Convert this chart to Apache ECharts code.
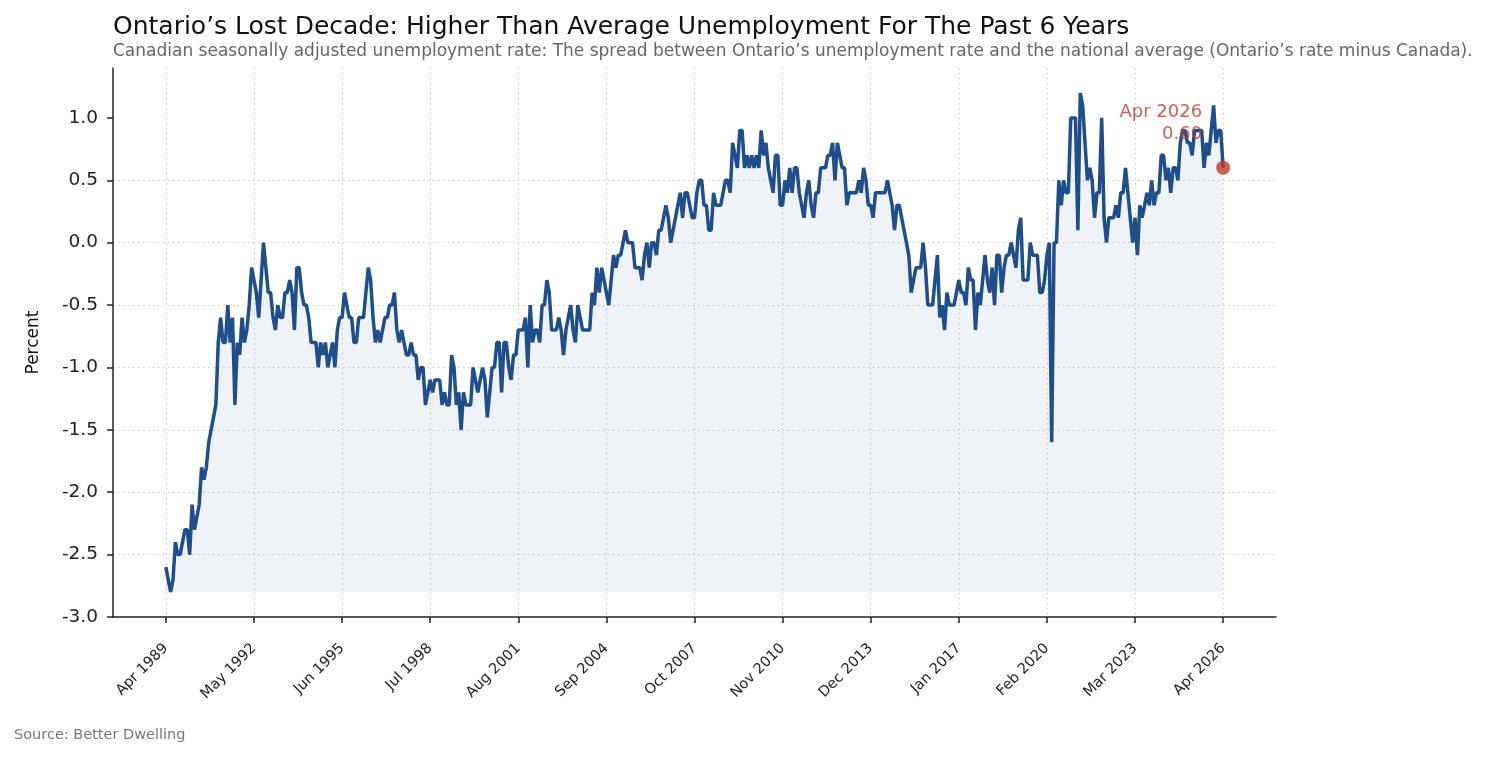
<!DOCTYPE html>
<html>
<head>
<meta charset="utf-8">
<script src="https://cdn.jsdelivr.net/npm/echarts@6/dist/echarts.min.js"></script>
<style>
  html, body { margin: 0; padding: 0; background: #fff; }
  #chart { width: 1490px; height: 759px; }
</style>
</head>
<body>
<div id="chart"></div>
<script>
// Ontario unemployment rate minus Canada, monthly, one row per year
const spread1989to1999 = [
  -2.6, -2.7, -2.8, -2.7, -2.4, -2.5, -2.5, -2.4, -2.3,               // 1989 Apr-Dec
  -2.3, -2.5, -2.1, -2.3, -2.2, -2.1, -1.8, -1.9, -1.8, -1.6, -1.5, -1.4, // 1990
  -1.3, -0.8, -0.6, -0.8, -0.8, -0.5, -0.8, -0.6, -1.3, -0.8, -0.9, -0.6, // 1991
  -0.8, -0.7, -0.5, -0.2, -0.3, -0.4, -0.6, -0.3, 0.0, -0.2, -0.4, -0.4,  // 1992
  -0.6, -0.7, -0.5, -0.6, -0.6, -0.4, -0.4, -0.3, -0.4, -0.7, -0.2, -0.2, // 1993
  -0.4, -0.5, -0.5, -0.6, -0.8, -0.8, -0.8, -1.0, -0.8, -0.9, -0.8, -1.0, // 1994
  -0.9, -0.8, -1.0, -0.7, -0.6, -0.6, -0.4, -0.5, -0.6, -0.6, -0.8, -0.8, // 1995
  -0.6, -0.6, -0.6, -0.4, -0.2, -0.3, -0.6, -0.8, -0.7, -0.8, -0.7, -0.6, // 1996
  -0.6, -0.5, -0.5, -0.4, -0.7, -0.8, -0.7, -0.8, -0.9, -0.9, -0.8, -0.9, // 1997
  -0.9, -1.1, -1.0, -1.0, -1.3, -1.2, -1.1, -1.2, -1.1, -1.1, -1.1, -1.3, // 1998
  -1.2, -1.3, -1.3, -0.9, -1.0, -1.3, -1.2, -1.5, -1.2, -1.3, -1.3, -1.3  // 1999
];
const spread2000to2009 = [
  -1.0, -1.1, -1.2, -1.1, -1.0, -1.1, -1.4, -1.2, -1.0, -1.0, -0.8, -0.8, // 2000
  -1.2, -0.8, -0.8, -1.0, -1.1, -0.9, -0.9, -0.7, -0.7, -0.7, -0.6, -1.0, // 2001
  -0.5, -0.8, -0.7, -0.7, -0.8, -0.5, -0.5, -0.3, -0.4, -0.7, -0.7, -0.7, // 2002
  -0.6, -0.7, -0.9, -0.7, -0.6, -0.5, -0.7, -0.8, -0.5, -0.6, -0.7, -0.7, // 2003
  -0.7, -0.7, -0.4, -0.5, -0.2, -0.4, -0.2, -0.3, -0.4, -0.5, -0.3, -0.1, // 2004
  -0.2, -0.1, -0.1, 0.0, 0.1, 0.0, 0.0, 0.0, -0.2, -0.2, -0.2, -0.3,      // 2005
  -0.1, 0.0, -0.2, 0.0, 0.0, -0.1, 0.1, 0.1, 0.2, 0.3, 0.2, 0.0,          // 2006
  0.1, 0.2, 0.3, 0.4, 0.2, 0.4, 0.4, 0.3, 0.2, 0.2, 0.4, 0.5,             // 2007
  0.5, 0.3, 0.3, 0.1, 0.1, 0.4, 0.3, 0.3, 0.3, 0.4, 0.5, 0.5,             // 2008
  0.4, 0.8, 0.7, 0.6, 0.9, 0.9, 0.6, 0.7, 0.6, 0.7, 0.6, 0.7              // 2009
];
const spread2010to2019 = [
  0.6, 0.9, 0.7, 0.8, 0.6, 0.5, 0.4, 0.7, 0.7, 0.3, 0.3, 0.5,             // 2010
  0.4, 0.6, 0.4, 0.6, 0.6, 0.4, 0.3, 0.2, 0.4, 0.5, 0.3, 0.2,             // 2011
  0.4, 0.4, 0.6, 0.6, 0.6, 0.7, 0.7, 0.8, 0.5, 0.8, 0.7, 0.6,             // 2012
  0.6, 0.3, 0.4, 0.4, 0.4, 0.4, 0.5, 0.4, 0.6, 0.5, 0.3, 0.3,             // 2013
  0.2, 0.4, 0.4, 0.4, 0.4, 0.4, 0.5, 0.4, 0.3, 0.1, 0.3, 0.3,             // 2014
  0.2, 0.1, 0.0, -0.1, -0.4, -0.3, -0.2, -0.2, -0.2, 0.0, -0.2, -0.5,     // 2015
  -0.5, -0.5, -0.3, -0.1, -0.6, -0.5, -0.7, -0.4, -0.5, -0.5, -0.5, -0.4, // 2016
  -0.3, -0.4, -0.4, -0.5, -0.2, -0.3, -0.3, -0.7, -0.4, -0.5, -0.3, -0.1, // 2017
  -0.3, -0.4, -0.2, -0.5, -0.1, -0.1, -0.4, -0.2, -0.1, -0.1, 0.0, -0.1,  // 2018
  -0.2, 0.1, 0.2, -0.3, -0.3, -0.3, 0.0, -0.1, -0.1, -0.1, -0.4, -0.4     // 2019
];
const spread2020to2026 = [
  -0.3, -0.1, 0.0, -1.6, 0.0, 0.0, 0.5, 0.3, 0.5, 0.4, 0.4, 1.0,          // 2020
  1.0, 1.0, 0.1, 1.2, 1.1, 0.8, 0.5, 0.6, 0.5, 0.2, 0.4, 0.4,             // 2021
  1.0, 0.2, 0.0, 0.2, 0.2, 0.2, 0.3, 0.2, 0.4, 0.4, 0.6, 0.4,             // 2022
  0.2, 0.0, 0.2, -0.1, 0.3, 0.2, 0.3, 0.4, 0.3, 0.5, 0.3, 0.4,            // 2023
  0.4, 0.7, 0.7, 0.5, 0.6, 0.4, 0.6, 0.6, 0.5, 0.8, 0.9, 0.9,             // 2024
  0.8, 0.8, 0.7, 0.9, 0.9, 0.9, 0.9, 0.6, 0.8, 0.7, 0.9, 1.1,             // 2025
  0.8, 0.9, 0.9, 0.6                                                      // 2026 Jan-Apr
];

// x ticks: month index since Apr 1989
const xTickIndex = [0, 37, 74, 111, 148, 185, 222, 259, 296, 333, 370, 407, 444];
const xTickLabels = ['Apr 1989', 'May 1992', 'Jun 1995', 'Jul 1998', 'Aug 2001', 'Sep 2004',
  'Oct 2007', 'Nov 2010', 'Dec 2013', 'Jan 2017', 'Feb 2020', 'Mar 2023', 'Apr 2026'];
const yTicks = [-3.0, -2.5, -2.0, -1.5, -1.0, -0.5, 0.0, 0.5, 1.0];
const lastLabel = 'Apr 2026';

const values = spread1989to1999.concat(spread2000to2009, spread2010to2019, spread2020to2026);
const seriesData = values.map((v, i) => [i, v]);
const lastIdx = values.length - 1;
const baseline = Math.min(...values);

const FONT = "'DejaVu Sans', sans-serif";
const lineColor = '#1f4e8c';
const accent = '#c0392b';
const gridLine = { show: true, lineStyle: { color: '#cfcfcf', type: [1.5, 3.5], width: 1 } };

var chart = echarts.init(document.getElementById('chart'));
var option = {
    backgroundColor: '#ffffff',
    animation: false,
    textStyle: { fontFamily: FONT },
    title: [
        {
            text: 'Ontario’s Lost Decade: Higher Than Average Unemployment For The Past 6 Years',
            left: 108,
            top: 10,
            textStyle: { fontFamily: FONT, fontSize: 25, fontWeight: 'normal', color: '#111' }
        },
        {
            text: 'Canadian seasonally adjusted unemployment rate: The spread between Ontario’s unemployment rate and the national average (Ontario’s rate minus Canada).',
            left: 108,
            top: 38,
            textStyle: { fontFamily: FONT, fontSize: 17, fontWeight: 'normal', color: '#666' }
        },
        {
            text: 'Source: Better Dwelling',
            left: 9,
            top: 723,
            textStyle: { fontFamily: FONT, fontSize: 14.5, fontWeight: 'normal', color: '#777' }
        }
    ],
    grid: { left: 113, right: 214, top: 68, bottom: 142 },
    xAxis: {
        type: 'value',
        min: -22.2,
        max: 466.2,
        axisLine: { show: true, onZero: false, lineStyle: { color: '#222', width: 1.5 } },
        axisTick: { show: true, length: 6, customValues: xTickIndex, lineStyle: { color: '#222', width: 1.5 } },
        axisLabel: {
            customValues: xTickIndex,
            rotate: 45,
            margin: 29,
            fontSize: 14.5,
            color: '#222',
            fontFamily: FONT,
            formatter: function (v) {
                const k = xTickIndex.indexOf(Math.round(v));
                return k >= 0 ? xTickLabels[k] : '';
            }
        },
        splitLine: gridLine
    },
    yAxis: {
        type: 'value',
        min: -3.0,
        max: 1.4,
        interval: 0.5,
        name: 'Percent',
        nameLocation: 'middle',
        nameGap: 71,
        nameTextStyle: { fontFamily: FONT, fontSize: 17, color: '#111' },
        axisLine: { show: true, onZero: false, lineStyle: { color: '#222', width: 1.5 } },
        axisTick: { show: true, length: 6, customValues: yTicks, lineStyle: { color: '#222', width: 1.5 } },
        axisLabel: {
            customValues: yTicks,
            fontSize: 18.5,
            color: '#222',
            margin: 15,
            fontFamily: FONT,
            formatter: function (v) { return v.toFixed(1); }
        },
        splitLine: Object.assign({ showMaxLine: false, showMinLine: false }, gridLine)
    },
    series: [
        {
            type: 'line',
            data: seriesData,
            showSymbol: false,
            symbol: 'none',
            lineStyle: { color: lineColor, width: 3.5 },
            areaStyle: { color: 'rgba(31,78,140,0.1)', origin: baseline },
            z: 3
        },
        {
            type: 'scatter',
            data: [[lastIdx, values[lastIdx]]],
            symbolSize: 14,
            itemStyle: { color: accent },
            label: {
                show: true,
                position: 'left',
                distance: 5,
                offset: [-9, -44],
                align: 'right',
                color: accent,
                fontSize: 18,
                lineHeight: 22,
                fontFamily: FONT,
                formatter: function (p) { return lastLabel + '\n' + p.value[1].toFixed(2); }
            },
            z: 5
        }
    ]
};
option && chart.setOption(option);
</script>
</body>
</html>
